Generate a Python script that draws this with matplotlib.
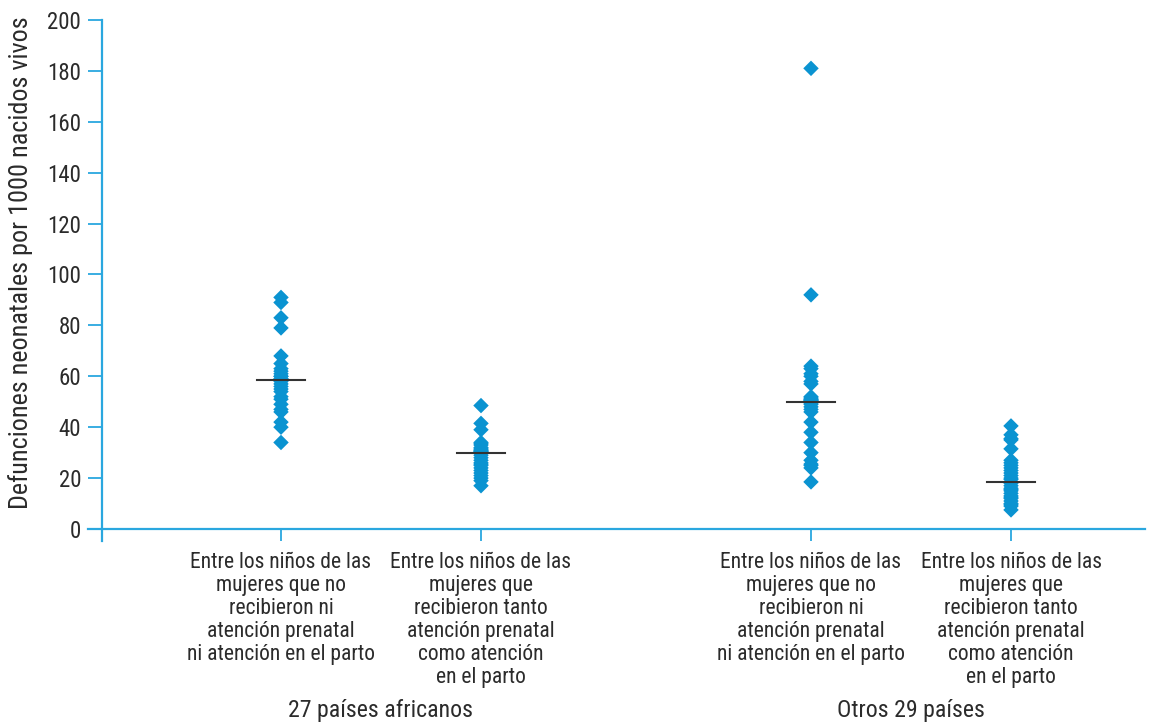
import numpy as np
import matplotlib
matplotlib.use("Agg")
import matplotlib.pyplot as plt
import matplotlib.transforms as mtransforms

# ---------------- data ----------------
categories = [
    "Entre los niños de las\nmujeres que no\nrecibieron ni\natención prenatal\nni atención en el parto",
    "Entre los niños de las\nmujeres que\nrecibieron tanto\natención prenatal\ncomo atención\nen el parto",
    "Entre los niños de las\nmujeres que no\nrecibieron ni\natención prenatal\nni atención en el parto",
    "Entre los niños de las\nmujeres que\nrecibieron tanto\natención prenatal\ncomo atención\nen el parto",
]
group_labels = ["27 países africanos", "Otros 29 países"]

africa_none = [91, 89, 83, 79, 68, 65, 63, 62, 61, 60, 60, 59, 59, 58.5,
               58, 57, 56, 55, 54, 52, 51, 49, 47, 46, 42, 40, 34]
africa_both = [48.5, 41.5, 39, 34, 33.5, 33, 32, 31.5, 31, 31, 30.5, 30.5, 30, 30,
               29, 28, 27, 26, 25.5, 25, 24, 23, 22, 21, 20, 19, 17]
other_none = [181, 92, 64, 63, 61, 60, 58, 57, 52, 51.5, 51, 51, 50.5, 50.5, 50,
              49.5, 49, 48, 47, 46, 42, 38, 34, 30, 27, 25.5, 25, 24, 18.5]
other_both = [40.5, 37, 35.5, 35, 31.5, 27, 26, 25, 24, 23, 22, 21, 20, 19.5, 18.5,
              18, 17, 16, 15.5, 15, 14, 13, 12.5, 12, 11, 10, 9.5, 9, 7.5]
series = [africa_none, africa_both, other_none, other_both]

yticks = [0, 20, 40, 60, 80, 100, 120, 140, 160, 180, 200]
ylabel = "Defunciones neonatales por 1000 nacidos vivos"

# ---------------- style ----------------
plt.rcParams["font.family"] = ["Roboto Condensed", "DejaVu Sans"]

point_color = "#0a93d1"
axis_color = "#2aa7df"
text_color = "#2b2b2b"
fs = 15.5

positions = [1.0, 2.0, 3.65, 4.65]
group_centers = [1.5, 4.15]

fig = plt.figure(figsize=(11.61, 7.23), dpi=100)
W, H = 1161, 723
left_px, right_px, top_px, bottom_px = 102, 1145, 20, 529
ax = fig.add_axes([left_px / W, 1 - bottom_px / H,
                   (right_px - left_px) / W, (bottom_px - top_px) / H])

xmin = 1 - 179 / 200
xmax = 1 + (right_px - 281) / 200
ax.set_xlim(xmin, xmax)
ax.set_ylim(0, 200)

for pos, vals in zip(positions, series):
    ax.scatter([pos] * len(vals), vals, marker="D", s=62, color=point_color,
               edgecolors="none", zorder=3, clip_on=False)
    med = np.median(vals)
    ax.plot([pos - 0.12, pos + 0.12], [med, med], color="#333333", lw=1.5, zorder=4)

for s in ax.spines.values():
    s.set_visible(False)

# axis lines drawn manually (crossing style)
ax.plot([-14 / (right_px - left_px), 1], [0, 0], transform=ax.transAxes,
        color=axis_color, lw=1.6, clip_on=False, zorder=2)
ax.plot([0, 0], [-12 / (bottom_px - top_px), 1], transform=ax.transAxes,
        color=axis_color, lw=1.6, clip_on=False, zorder=2)

ax.set_yticks(yticks)
ax.set_yticklabels([str(t) for t in yticks])
ax.tick_params(axis="y", direction="out", length=10, width=1.3, color=axis_color,
               labelsize=16.5, labelcolor=text_color, pad=5)
ax.set_xticks(positions)
ax.set_xticklabels(categories)
ax.tick_params(axis="x", direction="out", length=8.6, width=1.3, color=axis_color,
               labelsize=fs, labelcolor=text_color, pad=8)
for lab in ax.get_xticklabels():
    lab.set_linespacing(1.12)

ax.set_ylabel(ylabel, fontsize=18.8, color=text_color)
ax.yaxis.set_label_coords(-0.066, 0.523)

trans = mtransforms.blended_transform_factory(ax.transData, fig.transFigure)
for gx, gl in zip(group_centers, group_labels):
    ax.text(gx, 1 - 710 / H, gl, transform=trans, ha="center", va="center",
            fontsize=17.2, color=text_color)

fig.savefig("out.png", dpi=100)
